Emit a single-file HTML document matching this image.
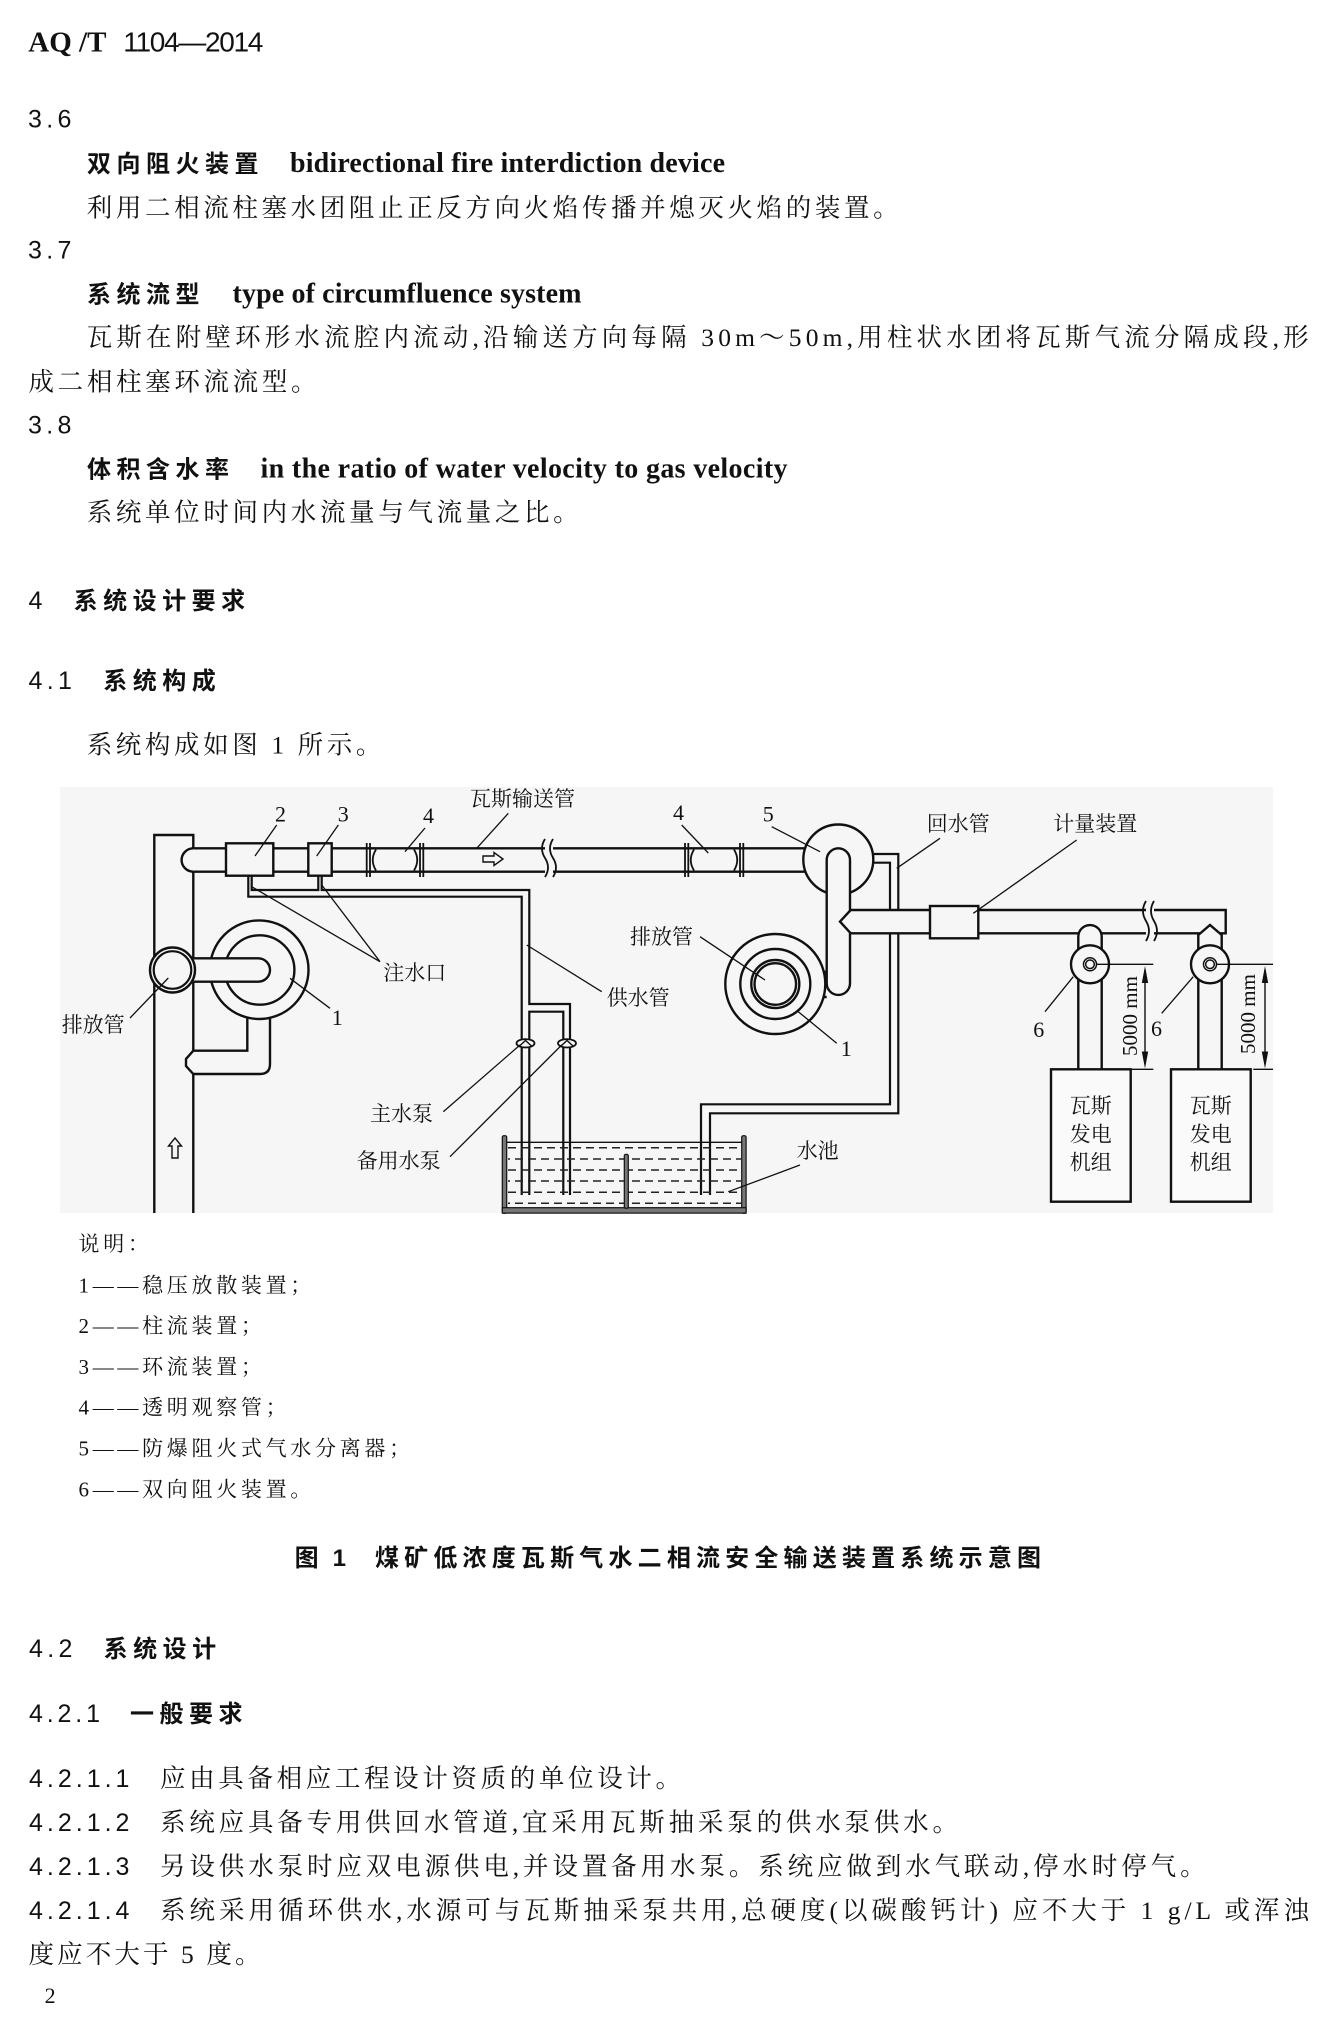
<!DOCTYPE html>
<html><head><meta charset="utf-8">
<style>
html,body{margin:0;padding:0;background:#fff;}
svg{display:block;}
.b{font-family:"Liberation Serif","Noto Serif CJK SC",serif;font-size:25.5px;fill:#111;}
.n{font-family:"Liberation Sans","Noto Sans CJK SC",sans-serif;font-size:25px;letter-spacing:4.3px;fill:#111;}
.h{font-family:"Liberation Sans","Noto Sans CJK SC",sans-serif;font-weight:bold;font-size:24px;letter-spacing:5.5px;fill:#111;}
.e{font-family:"Liberation Serif",serif;font-weight:bold;font-size:28px;fill:#111;}
.l{font-family:"Liberation Serif","Noto Serif CJK SC",serif;font-size:21px;letter-spacing:3.7px;fill:#111;}
.c{font-family:"Liberation Sans","Noto Sans CJK SC",sans-serif;font-weight:bold;font-size:24px;fill:#111;}
.f{font-family:"Liberation Serif","Noto Serif CJK SC",serif;font-size:21px;fill:#111;}
.d{font-family:"Liberation Serif",serif;font-size:22px;fill:#111;}
</style></head><body>
<svg width="1335" height="2039" viewBox="0 0 1335 2039" xmlns="http://www.w3.org/2000/svg">
<rect x="0" y="0" width="1335" height="2039" fill="#fff"/>

<!-- Header -->
<text x="28.3" y="51.7" font-family="Liberation Serif" font-weight="bold" font-size="29" fill="#111">AQ /T</text>
<text x="123.3" y="51.7" font-family="Liberation Sans" font-size="28" fill="#111" textLength="140" lengthAdjust="spacing">1104—2014</text>

<!-- 3.6 -->
<text x="28" y="127.5" class="n">3.6</text>
<text x="87" y="172" class="h">双向阻火装置</text>
<text x="290" y="172" class="e" textLength="435" lengthAdjust="spacing">bidirectional fire interdiction device</text>
<text x="86.7" y="216.5" class="b" textLength="812" lengthAdjust="spacing">利用二相流柱塞水团阻止正反方向火焰传播并熄灭火焰的装置。</text>

<!-- 3.7 -->
<text x="28" y="258.5" class="n">3.7</text>
<text x="87" y="302.7" class="h">系统流型</text>
<text x="232.5" y="302.7" class="e" textLength="349" lengthAdjust="spacing">type of circumfluence system</text>
<text x="86.7" y="346" class="b" textLength="1222" lengthAdjust="spacing">瓦斯在附壁环形水流腔内流动,沿输送方向每隔 30m～50m,用柱状水团将瓦斯气流分隔成段,形</text>
<text x="28.5" y="390.5" class="b" textLength="288" lengthAdjust="spacing">成二相柱塞环流流型。</text>

<!-- 3.8 -->
<text x="28" y="433.5" class="n">3.8</text>
<text x="87" y="477.7" class="h">体积含水率</text>
<text x="260.5" y="477.7" class="e" textLength="527" lengthAdjust="spacing">in the ratio of water velocity to gas velocity</text>
<text x="86.7" y="521" class="b" textLength="492" lengthAdjust="spacing">系统单位时间内水流量与气流量之比。</text>

<!-- 4 -->
<text x="28.5" y="609" class="n">4</text>
<text x="73.6" y="609" class="h">系统设计要求</text>
<text x="28.5" y="689" class="n">4.1</text>
<text x="103.3" y="689" class="h">系统构成</text>
<text x="86.7" y="753.5" class="b" textLength="294.7" lengthAdjust="spacing">系统构成如图 1 所示。</text>

<!-- FIGURE -->
<rect x="60" y="787" width="1213" height="426" fill="#f6f6f6"/>

<g stroke="#111" stroke-width="2.4" fill="none" stroke-linejoin="miter">
  <path d="M154.3,1213 V835 H193.3 V848.3 M193.3,871.7 V958.3 M193.3,981.7 V1050.7 M193.3,1074 V1213"/>
  <path d="M193.3,848.3 H545 M553,848.3 H805.2 M193.3,871.7 H545 M553,871.7 H805.5"/>
  <path d="M193.3,848.3 A11.7,11.7 0 0 0 193.3,871.7"/>
</g>
<g stroke="#111" stroke-width="1.8" fill="none">
  <path d="M545,839 q-6,9.5 0,19 t0,19"/>
  <path d="M553,839 q-6,9.5 0,19 t0,19"/>
  <path d="M366.7,843 V877 M370,843 V877 M420,843 V877 M423.3,843 V877"/>
  <path d="M376,849.5 Q369.5,860 376,870.5 M414,849.5 Q420.5,860 414,870.5"/>
  <path d="M685,843 V877 M688.3,843 V877 M740,843 V877 M743.3,843 V877"/>
  <path d="M694,849.5 Q687.5,860 694,870.5 M734,849.5 Q740.5,860 734,870.5"/>
</g>
<g stroke="#111" stroke-width="2.4" fill="#f6f6f6">
  <rect x="226" y="843.3" width="47.3" height="32.4"/>
  <rect x="308.3" y="843.3" width="23.4" height="32.4"/>
</g>
<g stroke="#111" stroke-width="1.4" fill="none">
  <path d="M483,856 H494 V852.5 L503,859 L494,865.5 V862 H483 Z"/>
  <path d="M1050,918.7 H1061 V915.2 L1070,921.7 L1061,928.2 V924.7 H1050 Z"/>
  <path d="M175,1138 L181.5,1146 H178 V1158 H172 V1146 H168.5 Z"/>
</g>

<g stroke="#111" stroke-width="2.2" fill="none">
  <path d="M248.3,875.7 V896.7 H521.7 V1195"/>
  <path d="M251.7,875.7 V890 H318.3 V875.7"/>
  <path d="M321.7,875.7 V890 H529.3 V1004 H570 V1195"/>
  <path d="M529.3,1195 V1011.7 H563.3 V1195"/>
</g>
<g stroke="#111" stroke-width="1.8" fill="#f6f6f6">
  <ellipse cx="525.5" cy="1043.3" rx="9" ry="4.2"/>
  <ellipse cx="567" cy="1043.3" rx="9" ry="4.2"/>
</g>
<g stroke="#111" stroke-width="1.4" fill="none">
  <path d="M519.5,1046 L525.5,1040.5 L531.5,1046"/>
  <path d="M561,1046 L567,1040.5 L573,1046"/>
</g>

<g stroke="#111" stroke-width="2.4" fill="none">
  <circle cx="259.2" cy="969.7" r="49.3"/>
  <circle cx="259.7" cy="970" r="34.7"/>
</g>
<path d="M193.3,958.3 H258.3 A11.7,11.7 0 0 1 258.3,981.7 H193.3 Z" fill="#f6f6f6"/>
<g stroke="#111" stroke-width="2.4" fill="none">
  <path d="M193.3,958.3 H258.3 A11.7,11.7 0 0 1 258.3,981.7 H193.3"/>
  <path d="M247.3,1017.5 V1050.7 H193.3 L186,1059 V1066 L193.3,1074 H260 Q270,1074 270,1064 V1017.8"/>
</g>
<g stroke="#111" stroke-width="2.4" fill="#f6f6f6">
  <circle cx="172.5" cy="970" r="22.5"/>
</g>
<circle cx="172.5" cy="970" r="18.8" stroke="#111" stroke-width="2.2" fill="none"/>

<g stroke="#111" stroke-width="2.2" fill="none">
  <path d="M872.9,854 H898.3 V1113.3 H710 V1195"/>
  <path d="M873.2,862.7 H890 V1104.3 H701 V1195"/>
</g>

<circle cx="838.3" cy="859.5" r="35" stroke="#111" stroke-width="2.4" fill="#f6f6f6"/>
<rect x="826.7" y="848.35" width="23.3" height="146.6" rx="11.65" fill="#f6f6f6"/>
<path d="M850,910 V860 A11.65,11.65 0 0 0 826.7,860 V983.3 A11.65,11.65 0 0 0 850,983.3 V933.3" stroke="#111" stroke-width="2.4" fill="none"/>

<g stroke="#111" stroke-width="2.4" fill="none">
  <circle cx="775.3" cy="984" r="50"/>
  <circle cx="775.3" cy="984" r="35"/>
  <circle cx="775.3" cy="984" r="24"/>
  <circle cx="775.3" cy="984" r="20.8"/>
  <path d="M823.8,972 H826.7 M823.8,997 H826.7"/>
</g>

<path d="M850.7,910 H1225.7 V933.3 H850.7 L840,921.6 Z" fill="#f6f6f6"/>
<g stroke="#111" stroke-width="2.4" fill="none">
  <path d="M850.7,910 H1146 M1154,910 H1225.7 V933.3 H1154 M1146,933.3 H850.7 L840,921.6 L850.7,910"/>
</g>
<g stroke="#111" stroke-width="1.8" fill="none">
  <path d="M1146,901 q-6,10 0,20 t0,20"/>
  <path d="M1154,901 q-6,10 0,20 t0,20"/>
</g>
<rect x="930" y="906" width="48.3" height="32.3" stroke="#111" stroke-width="2.4" fill="#f6f6f6"/>

<path d="M1078.3,1069.3 V936.7 A11.7,11.7 0 0 1 1101.7,936.7 V1069.3 Z" fill="#f6f6f6"/>
<path d="M1198.3,1069.3 V935 L1210,925 L1221.7,935 V1069.3 Z" fill="#f6f6f6"/>
<g stroke="#111" stroke-width="2.4" fill="none">
  <path d="M1078.3,1069.3 V936.7 A11.7,11.7 0 0 1 1101.7,936.7 V1069.3"/>
  <path d="M1198.3,1069.3 V935 L1210,925 L1221.7,935 V1069.3"/>
</g>
<g stroke="#111" stroke-width="2.4" fill="#f6f6f6">
  <circle cx="1090" cy="964.3" r="19"/>
  <circle cx="1210" cy="964.3" r="19"/>
</g>
<g stroke="#111" stroke-width="1.5" fill="none">
  <circle cx="1090" cy="964.3" r="6.5"/>
  <circle cx="1090" cy="964.3" r="4.3"/>
  <circle cx="1210" cy="964.3" r="6.5"/>
  <circle cx="1210" cy="964.3" r="4.3"/>
</g>
<g stroke="#111" stroke-width="2.4" fill="#fafafa">
  <rect x="1051" y="1069.3" width="79.7" height="132.4"/>
  <rect x="1171" y="1069.3" width="79.7" height="132.4"/>
</g>

<g stroke="#111" stroke-width="1.4" fill="none">
  <path d="M1096.5,964.3 H1153.3 M1131.7,1069.3 H1153.3 M1145,970 V1064"/>
  <path d="M1216.5,964.3 H1273 M1253.3,1069.3 H1273 M1265,970 V1064"/>
</g>
<g fill="#111">
  <polygon points="1145,966 1141.8,983 1148.2,983"/>
  <polygon points="1145,1068.5 1141.8,1051.5 1148.2,1051.5"/>
  <polygon points="1265,966 1261.8,983 1268.2,983"/>
  <polygon points="1265,1068.5 1261.8,1051.5 1268.2,1051.5"/>
</g>

<g stroke="#111" stroke-width="1.3" fill="none">
  <line x1="506.7" y1="1142.3" x2="741.7" y2="1142.3"/>
</g>
<g stroke="#222" stroke-width="1.5" fill="none" stroke-dasharray="8 5">
  <line x1="508" y1="1147.7" x2="741" y2="1147.7"/>
  <line x1="508" y1="1159" x2="741" y2="1159" stroke-dashoffset="6"/>
  <line x1="508" y1="1170" x2="741" y2="1170"/>
  <line x1="508" y1="1181" x2="741" y2="1181" stroke-dashoffset="6"/>
  <line x1="508" y1="1192.3" x2="741" y2="1192.3"/>
  <line x1="508" y1="1203.3" x2="741" y2="1203.3" stroke-dashoffset="6"/>
</g>
<g stroke="#111" stroke-width="1.2" fill="#777">
  <rect x="502.3" y="1135.7" width="4.4" height="77.6" rx="1.5"/>
  <rect x="741.7" y="1135.7" width="4.4" height="77.6" rx="1.5"/>
  <rect x="502.3" y="1207.7" width="243.8" height="5.4"/>
  <rect x="624.3" y="1154.3" width="4" height="54" rx="1.5"/>
</g>

<g stroke="#111" stroke-width="1.3" fill="none">
  <path d="M276.7,825 L255,856"/>
  <path d="M338.3,825 L316.7,856"/>
  <path d="M425,828 L405,851.7"/>
  <path d="M508.3,813.3 L476.7,848.3"/>
  <path d="M681.7,825 L708.3,853"/>
  <path d="M771.7,826.7 L820,851.7"/>
  <path d="M940,838.3 L896.7,868.3"/>
  <path d="M1076.7,840 L973.3,913.3"/>
  <path d="M380,961.7 L251.7,886.7 M380,961.7 L321.7,885"/>
  <path d="M130,1018 L168.3,978"/>
  <path d="M330,1008.3 L290,978.3"/>
  <path d="M443.3,1111.7 L520,1045"/>
  <path d="M450,1156.7 L561.7,1045"/>
  <path d="M700,936.7 L765,980"/>
  <path d="M836.7,1043.3 L798.3,1011.7"/>
  <path d="M601.7,991.7 L526.7,945"/>
  <path d="M800,1165 L728.3,1191.7"/>
  <path d="M1045,1011.7 L1073.3,976.7"/>
  <path d="M1161.7,1013.3 L1193.3,976.7"/>
</g>

<text x="275" y="821.7" class="d">2</text>
<text x="337.7" y="821.7" class="d">3</text>
<text x="423" y="823" class="d">4</text>
<text x="470" y="806" class="f">瓦斯输送管</text>
<text x="673" y="820" class="d">4</text>
<text x="762.7" y="821.7" class="d">5</text>
<text x="926.7" y="831" class="f">回水管</text>
<text x="1053.3" y="831" class="f">计量装置</text>
<text x="383.3" y="980" class="f">注水口</text>
<text x="61.7" y="1032" class="f">排放管</text>
<text x="331.7" y="1025" class="d">1</text>
<text x="370" y="1121" class="f">主水泵</text>
<text x="356.7" y="1168" class="f">备用水泵</text>
<text x="630" y="944" class="f">排放管</text>
<text x="606.7" y="1005" class="f">供水管</text>
<text x="840.7" y="1056" class="d">1</text>
<text x="796.7" y="1158" class="f">水池</text>
<text x="1033.3" y="1037" class="d">6</text>
<text x="1151" y="1036" class="d">6</text>
<text transform="translate(1137,1016) rotate(-90)" text-anchor="middle" class="f">5000 mm</text>
<text transform="translate(1255,1014) rotate(-90)" text-anchor="middle" class="f">5000 mm</text>
<text x="1090.8" y="1113" class="f" text-anchor="middle">瓦斯</text>
<text x="1090.8" y="1141.3" class="f" text-anchor="middle">发电</text>
<text x="1090.8" y="1169.7" class="f" text-anchor="middle">机组</text>
<text x="1210.8" y="1113" class="f" text-anchor="middle">瓦斯</text>
<text x="1210.8" y="1141.3" class="f" text-anchor="middle">发电</text>
<text x="1210.8" y="1169.7" class="f" text-anchor="middle">机组</text>

<!-- legend -->
<text x="78.5" y="1250.8" class="l">说明：</text>
<text x="78.5" y="1292.3" class="l">1——稳压放散装置；</text>
<text x="78.5" y="1333.1" class="l">2——柱流装置；</text>
<text x="78.5" y="1373.9" class="l">3——环流装置；</text>
<text x="78.5" y="1414.7" class="l">4——透明观察管；</text>
<text x="78.5" y="1455.5" class="l">5——防爆阻火式气水分离器；</text>
<text x="78.5" y="1496.3" class="l">6——双向阻火装置。</text>

<!-- caption -->
<text x="294.6" y="1566" class="c">图</text>
<text x="332.6" y="1566" class="c">1</text>
<text x="375" y="1566" class="c" textLength="666" lengthAdjust="spacing">煤矿低浓度瓦斯气水二相流安全输送装置系统示意图</text>

<!-- 4.2 -->
<text x="29" y="1657" class="n">4.2</text>
<text x="103.6" y="1657" class="h">系统设计</text>
<text x="29" y="1722" class="n" style="letter-spacing:3.85px">4.2.1</text>
<text x="130" y="1722" class="h">一般要求</text>

<text x="29" y="1787" class="n" style="letter-spacing:4px">4.2.1.1</text>
<text x="160" y="1787" class="b" textLength="521" lengthAdjust="spacing">应由具备相应工程设计资质的单位设计。</text>
<text x="29" y="1831" class="n" style="letter-spacing:4px">4.2.1.2</text>
<text x="160" y="1831" class="b" textLength="798" lengthAdjust="spacing">系统应具备专用供回水管道,宜采用瓦斯抽采泵的供水泵供水。</text>
<text x="29" y="1875" class="n" style="letter-spacing:4px">4.2.1.3</text>
<text x="160" y="1875" class="b" textLength="1045.6" lengthAdjust="spacing">另设供水泵时应双电源供电,并设置备用水泵。系统应做到水气联动,停水时停气。</text>
<text x="29" y="1919" class="n" style="letter-spacing:4px">4.2.1.4</text>
<text x="160" y="1919" class="b" textLength="1149" lengthAdjust="spacing">系统采用循环供水,水源可与瓦斯抽采泵共用,总硬度(以碳酸钙计) 应不大于 1 g/L 或浑浊</text>
<text x="28.5" y="1963" class="b" textLength="232" lengthAdjust="spacing">度应不大于 5 度。</text>

<text x="44.6" y="2003" class="d">2</text>
</svg>
</body></html>
